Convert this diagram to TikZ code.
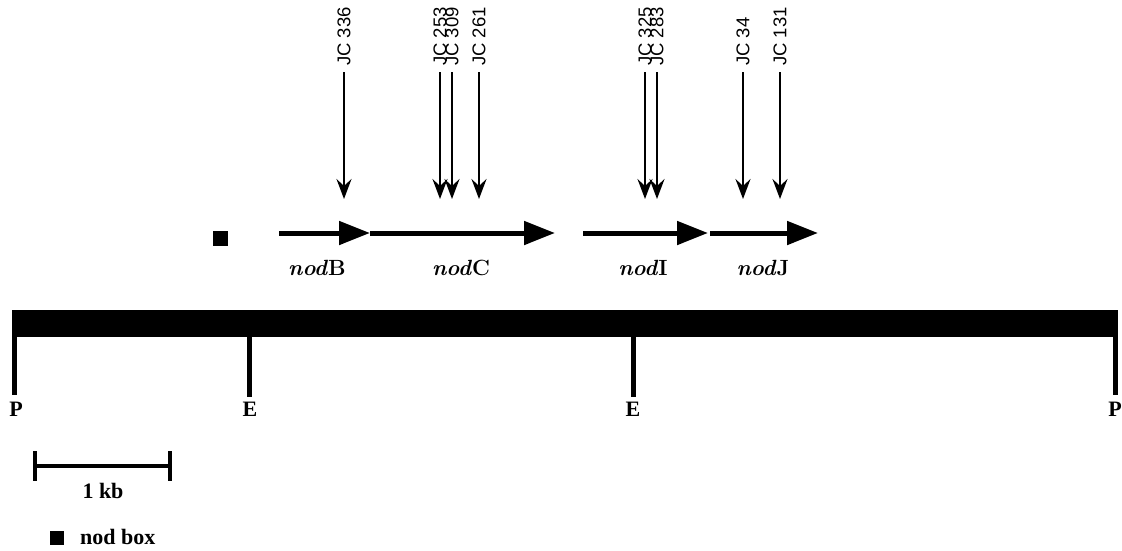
\documentclass[tikz,border=0pt]{standalone}
\usepackage{fontspec}
\newfontfamily\labelsans{Liberation Sans}
\newfontfamily\mapserif{Liberation Serif}
\usetikzlibrary{arrows.meta}

\tikzset{
  gene/.style={line width=5pt, -{Triangle[length=31pt,width=23pt]}},
  insertion/.style={line width=2.4pt, -{Stealth[length=20pt,width=15pt,inset=7pt]}},
  jclabel/.style={rotate=90, anchor=west, inner sep=0pt, font=\labelsans\fontsize{18.5}{20}\selectfont},
  genelabel/.style={font=\fontsize{22}{26}\selectfont\bfseries},
  maplabel/.style={font=\mapserif\fontsize{22}{26}\selectfont\bfseries, inner sep=0pt},
  sitetick/.style={line width=5pt},
  scaletick/.style={line width=4pt},
}

\begin{document}
\begin{tikzpicture}[x=1pt,y=-1pt]
\useasboundingbox (0,0) rectangle (1122,550);

% nod box upstream of nodB
\fill (213,231) rectangle (228,246);

% genes
\coordinate (b0) at (279,233);
\coordinate (b1) at (370,233);
\coordinate (c1) at (555,233);
\coordinate (i0) at (583,233);
\coordinate (i1) at (708,233);
\coordinate (j0) at (710,233);
\coordinate (j1) at (818,233);
\draw[gene] (b0) -- (b1);
\draw[gene] (b1) -- (c1);
\draw[gene] (i0) -- (i1);
\draw[gene] (j0) -- (j1);

\node[genelabel] (lB) at (317,268) {\textit{nod}B};
\node[genelabel] (lC) at (461,268) {\textit{nod}C};
\node[genelabel] (lI) at (643,268) {\textit{nod}I};
\node[genelabel] (lJ) at (763,268) {\textit{nod}J};

% Tn5 insertion sites
\foreach \name/\x/\txt in {a/344/JC 336, b/440/JC 253, c/452/JC 309, d/479/JC 261,
                           e/645/JC 325, f/657/JC 283, g/743/JC 34, h/780/JC 131} {
  \node[jclabel] (jc\name) at (\x,66) {\txt};
  \coordinate (tip\name) at (\x,199);
  \draw[insertion] (jc\name.west) ++(0,6) -- (tip\name);
}

% restriction map
\fill (12,310) rectangle (1118,337);
\coordinate (p1) at (14.5,337);
\coordinate (e1) at (249.5,337);
\coordinate (e2) at (633,337);
\coordinate (p2) at (1115.5,337);
\node[maplabel] (P1) at (16,409) {P};
\node[maplabel] (E1) at (250,409) {E};
\node[maplabel] (E2) at (633,409) {E};
\node[maplabel] (P2) at (1115,409) {P};
\draw[sitetick] (p1) -- (14.5,395);
\draw[sitetick] (e1) -- (249.5,397);
\draw[sitetick] (e2) -- (633,397);
\draw[sitetick] (p2) -- (1115.5,395);

% scale bar
\coordinate (s0) at (35,466);
\coordinate (s1) at (170,466);
\draw[scaletick] (s0) -- (s1);
\draw[scaletick] (35,451) -- (35,481);
\draw[scaletick] (170,451) -- (170,481);
\node[maplabel] (kb) at (103,491) {1 kb};

% legend
\fill (50,531) rectangle (64,545);
\node[maplabel, anchor=west] (leg) at (80,537) {nod box};
\end{tikzpicture}
\end{document}
